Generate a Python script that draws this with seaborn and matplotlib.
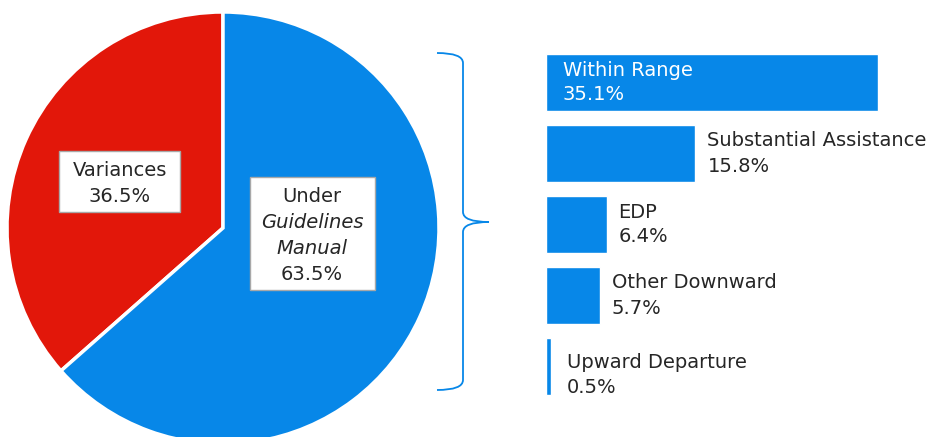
import matplotlib
matplotlib.use("Agg")
import matplotlib.pyplot as plt
import seaborn as sns
import pandas as pd
from matplotlib.path import Path
from matplotlib.patches import PathPatch, Rectangle

# Données
pie_labels = ["Variances", "Under Guidelines Manual"]
pie_values = [36.5, 63.5]
pie_colors = ["#E2170A", "#0787E8"]

bar_labels = ["Within Range", "Substantial Assistance", "EDP", "Other Downward", "Upward Departure"]
bar_values = [35.1, 15.8, 6.4, 5.7, 0.5]

bleu = "#0787E8"
texte = "#262626"

sns.set_theme(style="white")
plt.rcParams['font.family'] = ['DejaVu Sans']

fig = plt.figure(figsize=(9.32, 4.37), dpi=100)
W, H = 932, 437

# Camembert : centre (223, 228) px, rayon 216 px
cx, cy, r = 223, 228, 216
ax_pie = fig.add_axes([(cx - r) / W, (H - cy - r) / H, 2 * r / W, 2 * r / H])
ax_pie.pie(pie_values, colors=pie_colors, startangle=90, counterclock=True,
           wedgeprops=dict(edgecolor="white", linewidth=2.5))
ax_pie.set_xlim(-1, 1)
ax_pie.set_ylim(-1, 1)
ax_pie.set_aspect("equal")
ax_pie.axis("off")

# Barres horizontales
df = pd.DataFrame({"cat": bar_labels, "val": bar_values})
px_par_pct = 9.46
x0 = 546
top, pas = 47, 71
ax_bar = fig.add_axes([x0 / W, (H - top - 5 * pas) / H, (W - x0) / W, 5 * pas / H])
sns.barplot(data=df, x="val", y="cat", orient="h", color=bleu, saturation=1,
            width=0.8, ax=ax_bar)
ax_bar.set_xlim(0, (W - x0) / px_par_pct)
ax_bar.set_ylim(4.5, -0.5)
ax_bar.axis("off")

for i, (lab, val) in enumerate(zip(bar_labels, bar_values)):
    txt = f"{lab}\n{val:.1f}%"
    if i == 0:
        ax_bar.annotate(txt, xy=(0, i), xytext=(17, 0), textcoords="offset pixels",
                        ha="left", va="center", color="white", fontsize=14, linespacing=1.4)
    else:
        dx = 16 if val < 1 else 12
        ax_bar.annotate(txt, xy=(val, i + (0.12 if val < 1 else 0)), xytext=(dx, 0),
                        textcoords="offset pixels", ha="left", va="center",
                        color=texte, fontsize=14, linespacing=1.4)

# Calque en pixels pour l'accolade et les étiquettes du camembert
ov = fig.add_axes([0, 0, 1, 1], zorder=5)
ov.set_xlim(0, W)
ov.set_ylim(H, 0)
ov.axis("off")
ov.patch.set_alpha(0)

verts = [(437, 53), (463, 53), (463, 63),
         (463, 212),
         (463, 222), (489, 222),
         (463, 222), (463, 232),
         (463, 380),
         (463, 390), (437, 390)]
codes = [Path.MOVETO, Path.CURVE3, Path.CURVE3,
         Path.LINETO,
         Path.CURVE3, Path.CURVE3,
         Path.CURVE3, Path.CURVE3,
         Path.LINETO,
         Path.CURVE3, Path.CURVE3]
ov.add_patch(PathPatch(Path(verts, codes), fill=False, edgecolor=bleu, linewidth=1.3))

# Étiquettes du camembert
ov.add_patch(Rectangle((59, 151), 121, 61, facecolor="white", edgecolor="#A8A8A8", linewidth=1))
ov.text(120, 170, "Variances", ha="center", va="center", color=texte, fontsize=14)
ov.text(120, 197, "36.5%", ha="center", va="center", color=texte, fontsize=14)

ov.add_patch(Rectangle((250, 177), 125, 113, facecolor="white", edgecolor="#A8A8A8", linewidth=1))
ov.text(312, 196, "Under", ha="center", va="center", color=texte, fontsize=14)
ov.text(312, 222, "Guidelines", ha="center", va="center", color=texte, fontsize=14, style="italic")
ov.text(312, 248, "Manual", ha="center", va="center", color=texte, fontsize=14, style="italic")
ov.text(312, 274, "63.5%", ha="center", va="center", color=texte, fontsize=14)

fig.savefig("out.png", dpi=100)
